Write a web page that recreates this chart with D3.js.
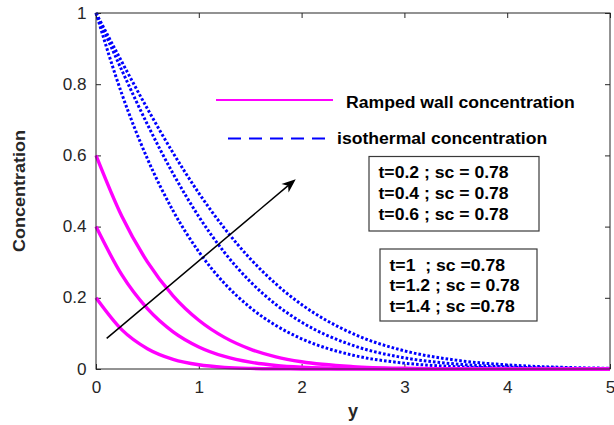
<!DOCTYPE html>
<html>
<head>
<meta charset="utf-8">
<script src="https://cdn.jsdelivr.net/npm/d3@7"></script>
<style>
  html, body { margin: 0; padding: 0; background: #fff; }
  svg { display: block; font-family: "Liberation Sans", Arial, sans-serif; }
</style>
</head>
<body>
<svg id="chart" width="614" height="425"></svg>
<script>
// y positions (horizontal axis) where the curves were read
var yPos = [0, 0.25, 0.5, 0.75, 1, 1.25, 1.5, 1.75, 2, 2.5, 3, 3.5, 4, 4.5, 5];

// ramped wall concentration, t = 0.2, 0.4, 0.6 (solid magenta)
var rampT02 = [0.2, 0.1105, 0.0570, 0.0271, 0.0119, 0.0047, 0.0017, 0.0006, 0.0002, 0, 0, 0, 0, 0, 0];
var rampT04 = [0.4, 0.2649, 0.1694, 0.1044, 0.0620, 0.0352, 0.0191, 0.0100, 0.0050, 0.0011, 0.0002, 0, 0, 0, 0];
var rampT06 = [0.6, 0.4295, 0.3010, 0.2055, 0.1369, 0.0888, 0.0560, 0.0343, 0.0203, 0.0066, 0.0019, 0.0005, 0.0001, 0, 0];

// isothermal concentration, t = 1, 1.2, 1.4 (dotted blue)
var isoT10 = [1, 0.7738, 0.5906, 0.4443, 0.3294, 0.2404, 0.1728, 0.1222, 0.0849, 0.0387, 0.0165, 0.0066, 0.0024, 0.0008, 0.0003];
var isoT12 = [1, 0.8400, 0.6871, 0.5488, 0.4282, 0.3273, 0.2456, 0.1811, 0.1315, 0.0662, 0.0314, 0.0140, 0.0059, 0.0023, 0.0009];
var isoT14 = [1, 0.8635, 0.7311, 0.6069, 0.4942, 0.3950, 0.3099, 0.2389, 0.1811, 0.0991, 0.0510, 0.0249, 0.0115, 0.0050, 0.0021];

var xTicks = [0, 1, 2, 3, 4, 5];
var yTicks = [0, 0.2, 0.4, 0.6, 0.8, 1];
var yTickLabels = ['0', '0.2', '0.4', '0.6', '0.8', '1'];

var legendLabels = ['Ramped wall concentration', 'isothermal concentration'];
var boxOneLines = ['t=0.2 ; sc = 0.78', 't=0.4 ; sc = 0.78', 't=0.6 ; sc = 0.78'];
var boxTwoLines = ['t=1\u00a0\u00a0; sc =0.78', 't=1.2 ; sc = 0.78', 't=1.4 ; sc =0.78'];

// arrow, in data units: [start, end]
var arrowPts = [[0.104, 0.086], [1.943, 0.533]];

var svg = d3.select('#chart');
var m = { left: 96, right: 610, top: 13, bottom: 369 };
var axisColor = '#262626';

var x = d3.scaleLinear().domain([0, 5]).range([m.left, m.right]);
var y = d3.scaleLinear().domain([0, 1]).range([m.bottom, m.top]);

// the reference text is slightly wider than the font, so stretch it a bit
function stretch(sel, k) {
  sel.each(function () {
    var w = this.getComputedTextLength();
    d3.select(this).attr('textLength', w * k).attr('lengthAdjust', 'spacingAndGlyphs');
  });
}

// axes with inward ticks
var gx = svg.append('g')
  .attr('transform', 'translate(0,' + m.bottom + ')')
  .call(d3.axisBottom(x).tickValues(xTicks).tickFormat(d3.format('d'))
    .tickSizeInner(-5).tickSizeOuter(0).tickPadding(13));
var gxTop = svg.append('g')
  .attr('transform', 'translate(0,' + m.top + ')')
  .call(d3.axisTop(x).tickValues(xTicks).tickFormat('').tickSizeInner(-5).tickSizeOuter(0));
var gy = svg.append('g')
  .attr('transform', 'translate(' + m.left + ',0)')
  .call(d3.axisLeft(y).tickValues(yTicks).tickFormat(function (d, i) { return yTickLabels[i]; })
    .tickSizeInner(-5).tickSizeOuter(0).tickPadding(9.5));
var gyRight = svg.append('g')
  .attr('transform', 'translate(' + m.right + ',0)')
  .call(d3.axisRight(y).tickValues(yTicks).tickFormat('').tickSizeInner(-5).tickSizeOuter(0));

[gx, gxTop, gy, gyRight].forEach(function (g) {
  g.select('.domain').remove();
  g.selectAll('line').attr('stroke', axisColor);
  g.selectAll('text')
    .attr('fill', axisColor)
    .style('font-family', '"Liberation Sans", Arial, sans-serif')
    .style('font-size', '16px');
});
gx.selectAll('.tick text').call(stretch, 1.07);
gy.selectAll('.tick text').call(stretch, 1.07);

// curves
var line = d3.line()
  .curve(d3.curveMonotoneX)
  .x(function (d) { return x(d[0]); })
  .y(function (d) { return y(d[1]); });

function pts(vals) {
  return yPos.map(function (p, i) { return [p, vals[i]]; });
}

var plot = svg.append('g');
[isoT10, isoT12, isoT14].forEach(function (s) {
  plot.append('path')
    .attr('d', line(pts(s)))
    .attr('fill', 'none')
    .attr('stroke', '#0000ff')
    .attr('stroke-width', 3)
    .attr('stroke-dasharray', '2.6,2');
});
[rampT02, rampT04, rampT06].forEach(function (s) {
  plot.append('path')
    .attr('d', line(pts(s)))
    .attr('fill', 'none')
    .attr('stroke', '#ff00ff')
    .attr('stroke-width', 3.4);
});

// frame
svg.append('rect')
  .attr('x', m.left).attr('y', m.top)
  .attr('width', m.right - m.left).attr('height', m.bottom - m.top)
  .attr('fill', 'none').attr('stroke', axisColor).attr('stroke-width', 1);

// arrow
var ax0 = x(arrowPts[0][0]), ay0 = y(arrowPts[0][1]);
var ax1 = x(arrowPts[1][0]), ay1 = y(arrowPts[1][1]);
var ang = Math.atan2(ay1 - ay0, ax1 - ax0);
var headL = 14, headW = 5.5, notch = 4;
function rot(px, py) {
  return [ax1 + px * Math.cos(ang) - py * Math.sin(ang), ay1 + px * Math.sin(ang) + py * Math.cos(ang)];
}
svg.append('line')
  .attr('x1', ax0).attr('y1', ay0)
  .attr('x2', rot(-headL + notch, 0)[0]).attr('y2', rot(-headL + notch, 0)[1])
  .attr('stroke', '#000').attr('stroke-width', 1.5);
svg.append('path')
  .attr('d', 'M' + [rot(0, 0), rot(-headL, -headW), rot(-headL + notch, 0), rot(-headL, headW)].join('L') + 'Z')
  .attr('fill', '#000');

// legend
svg.append('line')
  .attr('x1', 216).attr('x2', 333).attr('y1', 100).attr('y2', 100)
  .attr('stroke', '#ff00ff').attr('stroke-width', 2);
svg.append('line')
  .attr('x1', 228).attr('x2', 328).attr('y1', 138.5).attr('y2', 138.5)
  .attr('stroke', '#0000ff').attr('stroke-width', 2).attr('stroke-dasharray', '13,8');

svg.selectAll('.legtxt')
  .data(legendLabels)
  .enter().append('text')
  .attr('class', 'legtxt')
  .attr('x', function (d, i) { return i === 0 ? 346 : 337; })
  .attr('y', function (d, i) { return i === 0 ? 108 : 144; })
  .style('font-weight', 'bold').style('font-size', '16px')
  .attr('fill', '#000')
  .text(function (d) { return d; })
  .call(stretch, 1.1);

// text boxes
function textBox(lines, bx, by, bw, bh, tx, ty0) {
  svg.append('rect')
    .attr('x', bx).attr('y', by).attr('width', bw).attr('height', bh)
    .attr('fill', '#fff').attr('stroke', '#3a3a3a').attr('stroke-width', 1.2);
  svg.selectAll(null)
    .data(lines)
    .enter().append('text')
    .attr('x', tx)
    .attr('y', function (d, i) { return ty0 + i * 20.8; })
    .style('font-weight', 'bold').style('font-size', '16px')
    .attr('fill', '#000')
    .text(function (d) { return d; })
    .call(stretch, 1.1);
}
textBox(boxOneLines, 369, 156.5, 170, 74.5, 378.5, 178);
textBox(boxTwoLines, 380, 249, 157, 72, 389.5, 270.5);

// axis titles
svg.append('text')
  .attr('x', (m.left + m.right) / 2).attr('y', 417)
  .attr('text-anchor', 'middle')
  .style('font-weight', 'bold').style('font-size', '18px')
  .attr('fill', axisColor)
  .text('y');
svg.append('text')
  .attr('transform', 'translate(25,' + ((m.top + m.bottom) / 2) + ') rotate(-90)')
  .attr('text-anchor', 'middle')
  .style('font-weight', 'bold').style('font-size', '17px')
  .attr('fill', axisColor)
  .text('Concentration')
  .call(stretch, 1.06);
</script>
</body>
</html>
